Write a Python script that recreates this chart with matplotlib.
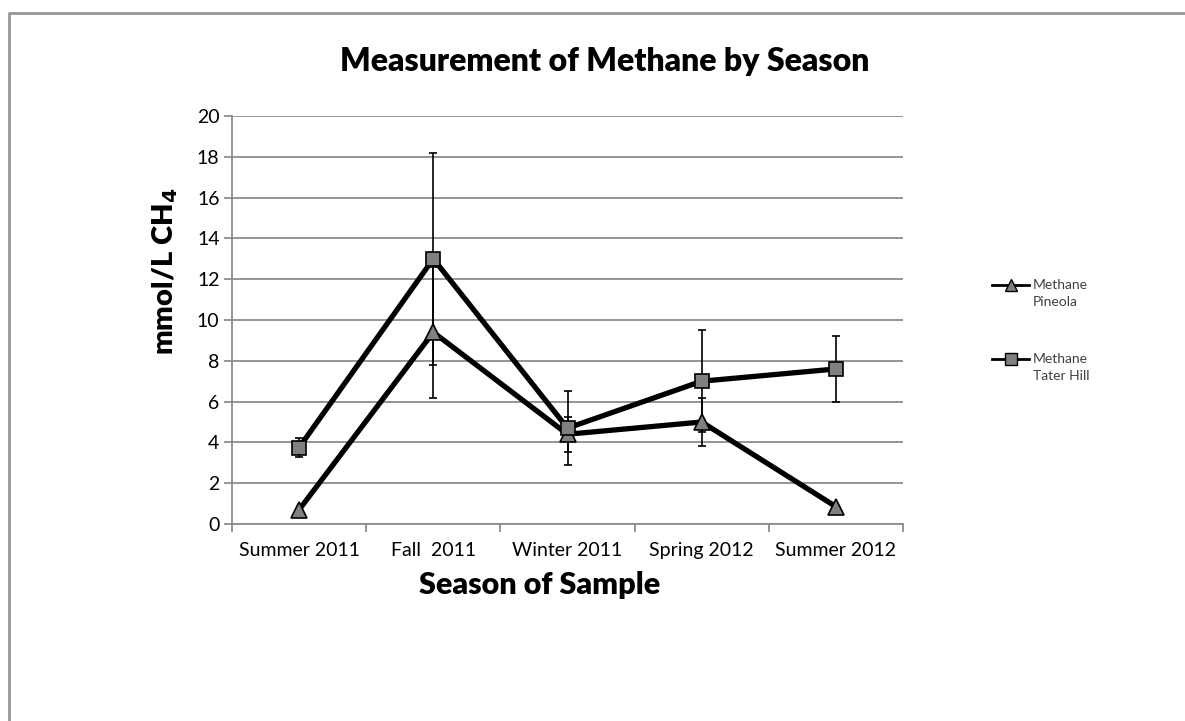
import matplotlib.pyplot as plt
import matplotlib.lines as mlines
import numpy as np

seasons = ["Summer 2011", "Fall  2011", "Winter 2011", "Spring 2012", "Summer 2012"]

pineola = [0.7, 9.4, 4.4, 5.0, 0.85]
pineola_err = [0.0, 3.2, 0.85, 1.17, 0.0]

tater_hill = [3.75, 13.0, 4.7, 7.0, 7.6]
tater_hill_err = [0.45, 5.2, 1.8, 2.5, 1.6]

series_names = [("Methane", "Pineola"), ("Methane", "Tater Hill")]
series_markers = ["^", "s"]

plt.rcParams['font.family'] = ['Lato', 'DejaVu Sans']

W, H = 1185, 721
fig = plt.figure(figsize=(W / 100, H / 100), dpi=100)
ax = fig.add_axes([232 / W, 1 - 524 / H, 671 / W, 408 / H])

x = np.arange(len(seasons))
grid_gray = "#8c8c8c"
fill_gray = "#808080"

# error bars first so the lines and markers sit on top
ax.errorbar(x, tater_hill, yerr=tater_hill_err, fmt="none", ecolor="black",
            elinewidth=1.2, capsize=3, capthick=1.2, zorder=3)
ax.errorbar(x, pineola, yerr=pineola_err, fmt="none", ecolor="black",
            elinewidth=1.2, capsize=3, capthick=1.2, zorder=3)

ax.plot(x, pineola, color="black", lw=3.8, marker="^", ms=11,
        mfc=fill_gray, mec="black", mew=1.2, zorder=4)
ax.plot(x, tater_hill, color="black", lw=3.8, marker="s", ms=10.5,
        mfc=fill_gray, mec="black", mew=1.2, zorder=5)

ax.set_xlim(-0.5, len(seasons) - 0.5)
ax.set_ylim(0, 20)
ax.set_yticks(np.arange(0, 21, 2))
ax.yaxis.grid(True, color=grid_gray, lw=1.3)
ax.set_axisbelow(True)

ax.set_xticks(x)
ax.set_xticklabels(seasons, fontsize=14)
ax.set_xticks(np.arange(-0.5, len(seasons)), minor=True)
ax.tick_params(axis="x", which="major", length=0, pad=13)
ax.tick_params(axis="x", which="minor", length=6, color=grid_gray, width=1.3)
ax.tick_params(axis="y", length=6, color=grid_gray, width=1.3, labelsize=14, pad=3)

for side in ["top", "right"]:
    ax.spines[side].set_visible(False)
for side in ["left", "bottom"]:
    ax.spines[side].set_color(grid_gray)
    ax.spines[side].set_linewidth(1.3)

fig.text(605 / W, 1 - 61 / H, "Measurement of Methane by Season",
         fontsize=23, fontweight="heavy", ha="center", va="center")
ax.set_xlabel("Season of Sample", fontsize=22, fontweight="heavy")
ax.xaxis.set_label_coords((540 - 232) / 671, (524 - 585) / 408, transform=ax.transAxes)
ax.xaxis.label.set_va("center")
ax.set_ylabel("mmol/L CH$_\\mathbf{4}$", fontsize=21, fontweight="heavy")
ax.yaxis.set_label_coords((165 - 232) / 671, (524 - 271) / 408)
ax.yaxis.label.set_va("center")

# legend entries: short line with marker, two-line name to the right
for (top, bottom), mk, ly in zip(series_names, series_markers, [285, 359]):
    yf = 1 - ly / H
    fig.add_artist(mlines.Line2D([992 / W, 1011 / W, 1029 / W], [yf, yf, yf],
                                 transform=fig.transFigure, color="black", lw=2,
                                 marker=mk, markevery=[1], ms=8, mfc=fill_gray,
                                 mec="black", mew=1))
    fig.text(1033 / W, yf, top, fontsize=10, color="#404040", va="center")
    fig.text(1033 / W, yf - 17 / H, bottom, fontsize=10, color="#404040", va="center")

# chart area outline
fig.add_artist(mlines.Line2D([9 / W, 9 / W, 1.0], [0.0, 1 - 13 / H, 1 - 13 / H],
                             transform=fig.transFigure, color="#969696", lw=2))

fig.savefig("out.png", dpi=100)
